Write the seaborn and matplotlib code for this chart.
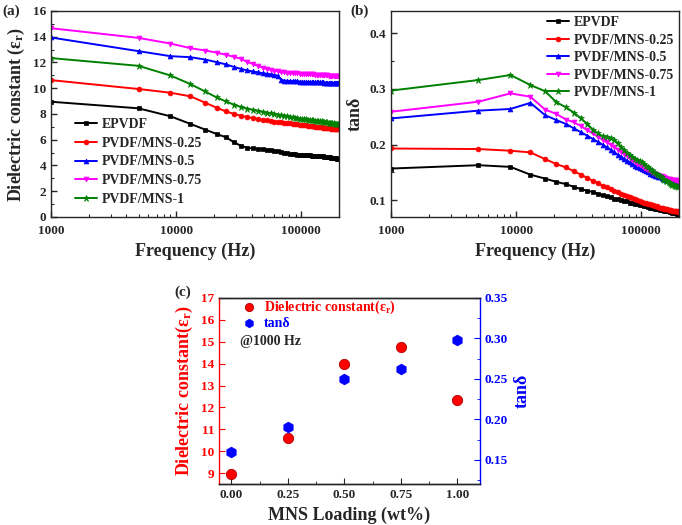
import matplotlib
matplotlib.use("Agg")
import matplotlib.pyplot as plt
import seaborn as sns
import pandas as pd
from matplotlib.ticker import MultipleLocator, FixedLocator, FormatStrFormatter

# frequency points (Hz)
freq = [1000, 5000, 9000, 13000, 17000, 21000, 25000, 29000, 33000, 37000,
        41000, 45000, 49000, 53000, 57000, 61000, 65000, 69000, 73000, 77000,
        81000, 85000, 89000, 93000, 97000, 101000, 105000, 109000, 113000, 117000,
        121000, 125000, 129000, 133000, 137000, 141000, 145000, 149000, 153000, 157000,
        161000, 165000, 169000, 173000, 177000, 181000, 185000, 189000, 193000, 197000]

samples = ["EPVDF", "PVDF/MNS-0.25", "PVDF/MNS-0.5", "PVDF/MNS-0.75", "PVDF/MNS-1"]

# dielectric constant vs frequency
eps_epvdf = [8.95, 8.44, 7.82, 7.23, 6.79, 6.45, 6.19, 5.80, 5.52, 5.38,
             5.32, 5.29, 5.26, 5.23, 5.20, 5.16, 5.10, 5.04, 4.98, 4.94,
             4.91, 4.88, 4.86, 4.84, 4.83, 4.82, 4.81, 4.80, 4.79, 4.78,
             4.77, 4.76, 4.75, 4.74, 4.73, 4.72, 4.71, 4.70, 4.69, 4.67,
             4.66, 4.64, 4.62, 4.61, 4.59, 4.58, 4.57, 4.56, 4.54, 4.53]
eps_025 = [10.63, 9.94, 9.65, 9.37, 8.88, 8.49, 8.20, 8.00, 7.86, 7.76,
           7.68, 7.61, 7.55, 7.50, 7.45, 7.41, 7.38, 7.35, 7.32, 7.30,
           7.28, 7.25, 7.23, 7.20, 7.17, 7.15, 7.13, 7.11, 7.09, 7.07,
           7.05, 7.04, 7.02, 7.00, 6.99, 6.97, 6.96, 6.94, 6.93, 6.92,
           6.90, 6.89, 6.88, 6.87, 6.86, 6.85, 6.84, 6.83, 6.82, 6.81]
eps_05 = [13.94, 12.88, 12.49, 12.41, 12.23, 12.03, 11.85, 11.65, 11.50, 11.38,
          11.30, 11.23, 11.17, 11.12, 11.07, 11.02, 10.98, 10.65, 10.60, 10.58,
          10.56, 10.55, 10.54, 10.53, 10.52, 10.51, 10.50, 10.50, 10.49, 10.49,
          10.48, 10.48, 10.47, 10.47, 10.46, 10.46, 10.45, 10.45, 10.44, 10.44,
          10.43, 10.43, 10.42, 10.42, 10.42, 10.41, 10.41, 10.41, 10.40, 10.40]
eps_075 = [14.66, 13.91, 13.47, 13.11, 12.93, 12.77, 12.60, 12.44, 12.28, 12.04,
           11.88, 11.74, 11.60, 11.50, 11.43, 11.37, 11.32, 11.28, 11.25, 11.22,
           11.20, 11.18, 11.17, 11.15, 11.14, 11.13, 11.12, 11.11, 11.10, 11.09,
           11.08, 11.07, 11.06, 11.05, 11.04, 11.03, 11.02, 11.01, 11.00, 10.99,
           10.99, 10.98, 10.97, 10.97, 10.96, 10.96, 10.95, 10.95, 10.95, 10.94]
eps_1 = [12.34, 11.74, 10.99, 10.32, 9.75, 9.29, 8.97, 8.72, 8.54, 8.42,
         8.32, 8.24, 8.16, 8.10, 8.04, 7.99, 7.95, 7.91, 7.88, 7.85,
         7.80, 7.74, 7.70, 7.67, 7.64, 7.62, 7.60, 7.58, 7.56, 7.54,
         7.52, 7.50, 7.49, 7.47, 7.46, 7.44, 7.42, 7.41, 7.39, 7.37,
         7.35, 7.33, 7.31, 7.29, 7.28, 7.27, 7.26, 7.25, 7.24, 7.23]

# tan delta vs frequency
tan_epvdf = [0.157, 0.163, 0.160, 0.146, 0.139, 0.133, 0.129, 0.124, 0.120, 0.117,
             0.115, 0.112, 0.109, 0.107, 0.105, 0.103, 0.102, 0.100, 0.099, 0.098,
             0.096, 0.095, 0.094, 0.093, 0.092, 0.091, 0.090, 0.089, 0.088, 0.087,
             0.087, 0.086, 0.085, 0.085, 0.084, 0.083, 0.083, 0.082, 0.081, 0.081,
             0.080, 0.080, 0.079, 0.079, 0.078, 0.078, 0.077, 0.077, 0.076, 0.076]
tan_025 = [0.193, 0.192, 0.189, 0.186, 0.174, 0.165, 0.159, 0.152, 0.146, 0.140,
           0.135, 0.131, 0.126, 0.123, 0.120, 0.117, 0.114, 0.112, 0.110, 0.108,
           0.106, 0.104, 0.102, 0.100, 0.098, 0.097, 0.096, 0.095, 0.094, 0.093,
           0.092, 0.091, 0.090, 0.089, 0.088, 0.087, 0.087, 0.086, 0.085, 0.084,
           0.084, 0.083, 0.082, 0.082, 0.081, 0.081, 0.080, 0.080, 0.080, 0.079]
tan_05 = [0.247, 0.261, 0.264, 0.275, 0.253, 0.244, 0.237, 0.229, 0.222, 0.216,
          0.210, 0.205, 0.200, 0.195, 0.191, 0.186, 0.182, 0.178, 0.174, 0.171,
          0.168, 0.165, 0.162, 0.160, 0.158, 0.156, 0.154, 0.152, 0.150, 0.148,
          0.147, 0.145, 0.144, 0.143, 0.142, 0.141, 0.140, 0.139, 0.138, 0.137,
          0.136, 0.135, 0.135, 0.134, 0.134, 0.133, 0.133, 0.133, 0.132, 0.132]
tan_075 = [0.259, 0.277, 0.292, 0.286, 0.263, 0.255, 0.245, 0.240, 0.233, 0.226,
           0.220, 0.214, 0.209, 0.204, 0.200, 0.195, 0.191, 0.187, 0.183, 0.179,
           0.176, 0.172, 0.169, 0.166, 0.163, 0.161, 0.158, 0.156, 0.154, 0.152,
           0.150, 0.149, 0.147, 0.146, 0.145, 0.144, 0.143, 0.142, 0.141, 0.140,
           0.139, 0.138, 0.138, 0.137, 0.137, 0.136, 0.136, 0.136, 0.135, 0.135]
tan_1 = [0.297, 0.316, 0.325, 0.307, 0.296, 0.276, 0.267, 0.257, 0.247, 0.237,
         0.227, 0.220, 0.215, 0.214, 0.211, 0.208, 0.202, 0.196, 0.190, 0.185,
         0.181, 0.178, 0.175, 0.172, 0.170, 0.168, 0.165, 0.162, 0.159, 0.156,
         0.154, 0.151, 0.149, 0.147, 0.145, 0.143, 0.141, 0.139, 0.137, 0.135,
         0.134, 0.132, 0.131, 0.129, 0.128, 0.127, 0.126, 0.125, 0.125, 0.124]

# values at 1000 Hz vs loading
loading = [0.0, 0.25, 0.5, 0.75, 1.0]
eps_1k = [8.97, 10.62, 14.0, 14.75, 12.35]
tan_1k = [0.160, 0.190, 0.250, 0.262, 0.298]

colors = ["black", "red", "blue", "magenta", "green"]
markers = ["s", "o", "^", "v", "*"]

eps_all = [eps_epvdf, eps_025, eps_05, eps_075, eps_1]
tan_all = [tan_epvdf, tan_025, tan_05, tan_075, tan_1]

sns.set_style("ticks")
plt.rcParams["font.family"] = ["Liberation Serif", "DejaVu Serif"]
plt.rcParams["font.weight"] = "bold"
plt.rcParams["axes.labelweight"] = "bold"
plt.rcParams["mathtext.default"] = "regular"
plt.rcParams["xtick.direction"] = "in"
plt.rcParams["ytick.direction"] = "in"
plt.rcParams["axes.linewidth"] = 1.0

fig = plt.figure(figsize=(6.82, 5.25), dpi=100)
ax_a = fig.add_axes([0.0748, 0.5867, 0.4223, 0.3924])
ax_b = fig.add_axes([0.5733, 0.5867, 0.4223, 0.3924])
ax_c = fig.add_axes([0.3211, 0.0781, 0.3827, 0.3543])


def draw_freq(ax, series):
    for name, vals, c, m in zip(samples, series, colors, markers):
        df = pd.DataFrame({"freq": freq, "val": vals})
        sns.lineplot(data=df, x="freq", y="val", ax=ax, color=c, marker=m,
                     markersize=4.5 if m == "*" else 3.5, markeredgecolor=c,
                     markeredgewidth=0.5, lw=1.4, label=name, errorbar=None)
    ax.set_xscale("log")
    ax.set_xlim(1000, 200000)
    ax.xaxis.set_major_locator(FixedLocator([1000, 10000, 100000]))
    ax.set_xticklabels(["1000", "10000", "100000"])
    ax.set_xlabel("Frequency (Hz)", fontsize=13)
    ax.tick_params(axis="both", which="major", labelsize=9.5, length=4, width=1)
    ax.tick_params(axis="x", which="major", pad=6)
    ax.tick_params(axis="both", which="minor", length=2.5, width=0.8)
    for lab in ax.get_xticklabels() + ax.get_yticklabels():
        lab.set_fontweight("bold")


draw_freq(ax_a, eps_all)
ax_a.set_ylim(0, 16)
ax_a.yaxis.set_major_locator(MultipleLocator(2))
ax_a.yaxis.set_minor_locator(MultipleLocator(1))
ax_a.set_ylabel("Dielectric constant (ε$_r$)", fontsize=13)
ax_a.legend(loc="lower left", bbox_to_anchor=(0.04, -0.005), frameon=False,
            prop={"size": 10, "weight": "bold"}, handlelength=1.6,
            handletextpad=0.3, labelspacing=0.4)
ax_a.text(-0.17, 1.0, "(a)", transform=ax_a.transAxes, fontsize=11,
          fontweight="bold", va="center")

draw_freq(ax_b, tan_all)
ax_b.set_ylim(0.07, 0.44)
ax_b.yaxis.set_major_locator(MultipleLocator(0.1))
ax_b.yaxis.set_minor_locator(MultipleLocator(0.05))
ax_b.set_ylabel("tanδ", fontsize=13)
ax_b.legend(loc="upper right", bbox_to_anchor=(1.025, 1.035), frameon=False,
            prop={"size": 10, "weight": "bold"}, handlelength=1.6,
            handletextpad=0.3, labelspacing=0.32)
ax_b.text(-0.14, 1.0, "(b)", transform=ax_b.transAxes, fontsize=11,
          fontweight="bold", va="center")

# panel (c): twin y axes
ax_c2 = ax_c.twinx()
sns.scatterplot(x=loading, y=eps_1k, ax=ax_c, color="red", s=55,
                edgecolor="#b00000", linewidth=0.6, marker="o",
                label="Dielectric constant(ε$_r$)", legend=False)
sns.scatterplot(x=loading, y=tan_1k, ax=ax_c2, color="blue", s=60,
                edgecolor="blue", linewidth=0.5, marker="h",
                label="tanδ", legend=False)
ax_c.set_xlim(-0.055, 1.1)
ax_c.set_ylim(8.5, 17)
ax_c2.set_ylim(0.12, 0.35)
ax_c.xaxis.set_major_locator(FixedLocator(loading))
ax_c.set_xticklabels(["0.00", "0.25", "0.50", "0.75", "1.00"])
ax_c.xaxis.set_minor_locator(MultipleLocator(0.125))
ax_c.yaxis.set_major_locator(MultipleLocator(1))
ax_c2.yaxis.set_major_locator(MultipleLocator(0.05))
ax_c2.yaxis.set_major_formatter(FormatStrFormatter("%.2f"))
ax_c2.yaxis.set_minor_locator(MultipleLocator(0.025))
ax_c.set_xlabel("MNS Loading (wt%)", fontsize=13)
ax_c.set_ylabel("Dielectric constant(ε$_r$)", fontsize=13, color="red")
ax_c2.set_ylabel("tanδ", fontsize=13, color="blue")
ax_c.tick_params(axis="y", colors="red", labelsize=9.5, length=4)
ax_c.tick_params(axis="x", labelsize=9.5, length=4)
ax_c.tick_params(axis="x", which="minor", length=2.5)
ax_c2.tick_params(axis="y", colors="blue", labelsize=9.5, length=4)
ax_c2.tick_params(axis="y", which="minor", colors="blue", length=2.5)
ax_c.spines["left"].set_color("red")
ax_c2.spines["left"].set_visible(False)
ax_c.spines["right"].set_visible(False)
ax_c2.spines["right"].set_color("blue")
for lab in ax_c.get_xticklabels() + ax_c.get_yticklabels() + ax_c2.get_yticklabels():
    lab.set_fontweight("bold")
h1, l1 = ax_c.get_legend_handles_labels()
h2, l2 = ax_c2.get_legend_handles_labels()
ax_c2.legend(h1 + h2, l1 + l2, loc="upper left", bbox_to_anchor=(0.03, 1.04),
             frameon=False, prop={"size": 10, "weight": "bold"},
             labelcolor=["red", "blue"], handletextpad=0.1, labelspacing=0.05,
             markerscale=0.8, borderaxespad=0.2)
ax_c2.text(0.08, 0.765, "@1000 Hz", transform=ax_c.transAxes, fontsize=10,
           fontweight="bold", va="center")
ax_c.text(-0.17, 1.03, "(c)", transform=ax_c.transAxes, fontsize=11,
          fontweight="bold", va="center")

fig.savefig("out.png", dpi=100)
